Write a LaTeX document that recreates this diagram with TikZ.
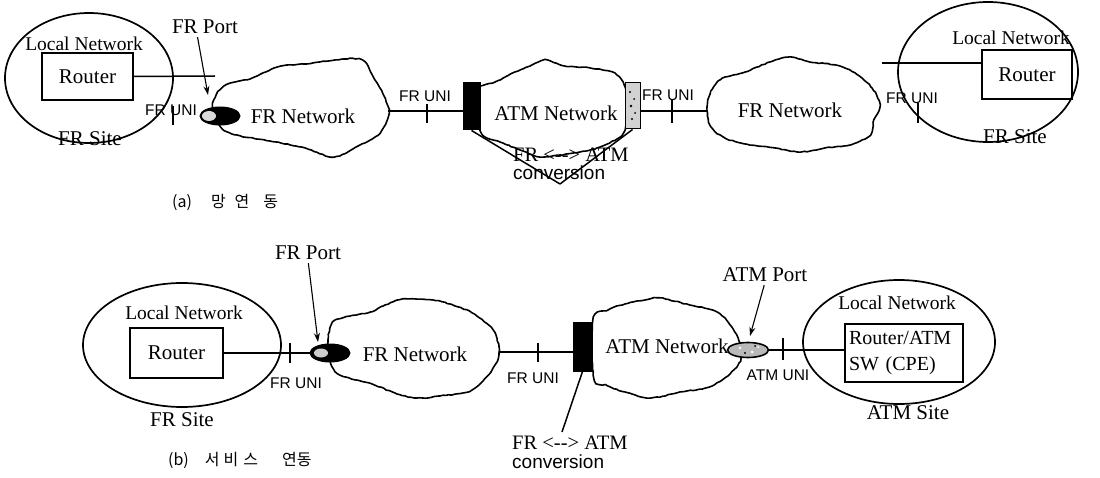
\documentclass[tikz,border=0pt]{standalone}
\usepackage{fontspec}
\setmainfont{Liberation Serif}
\newfontfamily\uisans{Liberation Sans}
\newfontfamily\krfont{Noto Sans CJK KR}
\usetikzlibrary{shapes.geometric,arrows.meta,decorations.pathmorphing}

\tikzset{
  lbl/.style={inner sep=0pt, font=\fontsize{21}{24}\selectfont},
  lanlbl/.style={inner sep=0pt, font=\fontsize{19.5}{22}\selectfont},
  unilbl/.style={inner sep=0pt, font=\uisans\fontsize{15.5}{18}\selectfont},
  cvlbl/.style={inner sep=0pt, anchor=west, font=\fontsize{20.5}{24}\selectfont},
  cvsans/.style={inner sep=0pt, anchor=west, font=\uisans\fontsize{19}{22}\selectfont},
  caplbl/.style={inner sep=0pt, anchor=west, font=\krfont\fontsize{16}{18}\selectfont},
  site/.style={draw, ellipse, line width=1.7pt, inner sep=0pt},
  rbox/.style={draw, line width=1.6pt, inner sep=0pt, font=\fontsize{21}{24}\selectfont},
  wire/.style={line width=1.5pt},
  tickmark/.style={line width=1.2pt},
  netcloud/.style={draw, fill=white, line width=1.6pt,
    decorate, decoration={random steps, segment length=3pt, amplitude=0.45pt}},
  blkdark/.style={draw, fill=black, line width=1pt, inner sep=0pt},
  blklight/.style={draw, fill=gray!35, line width=1pt, inner sep=0pt},
  port/.style={draw, ellipse, fill=black, line width=1pt, inner sep=0pt,
    minimum width=40pt, minimum height=18pt},
  portlight/.style={draw, ellipse, fill=gray!55, line width=1.6pt, inner sep=0pt,
    minimum width=41pt, minimum height=15pt},
  ptr/.style={-{Stealth[length=9pt,width=6pt]}, line width=1.1pt},
  cvline/.style={line width=1.5pt},
}

\begin{document}
\begin{tikzpicture}[x=1pt,y=-1pt]
\pgfmathsetseed{41}
\useasboundingbox (0,0) rectangle (1100,478);

% ---------------- (a) network interworking ----------------
% sites
\node[site, minimum width=168pt, minimum height=130pt] (siteA) at (89,78) {};
\node[site, minimum width=180pt, minimum height=140pt] (siteB) at (988,72) {};

% clouds
\draw[netcloud] plot[smooth cycle, tension=0.55] coordinates {
  (214,100) (224,86) (252,78) (278,67) (305,64) (335,60) (362,60) (374,78)
  (384,96) (389,113) (380,133) (358,146) (334,157) (305,148) (270,141)
  (232,134) (218,124) (213,112)};
\draw[netcloud] plot[smooth cycle, tension=0.55] coordinates {
  (478,88) (495,82) (515,72) (530,66) (545,60) (565,66) (590,68) (612,72)
  (623,82) (628,100) (627,118) (622,135) (600,147) (580,152) (560,155)
  (540,157) (520,150) (500,142) (483,135) (476,115) (476,100)};
\draw[netcloud] plot[smooth cycle, tension=0.55] coordinates {
  (708,100) (720,80) (745,72) (770,62) (790,57) (810,62) (835,65) (855,73)
  (872,88) (880,105) (874,120) (870,135) (850,145) (825,148) (800,152)
  (775,148) (750,145) (725,138) (710,125)};

% routers
\node[rbox, minimum width=91pt, minimum height=47pt] (rtA) at (87.5,76.5) {Router};
\node[rbox, minimum width=90pt, minimum height=49pt] (rtB) at (1027,74.5) {Router};

% conversion blocks
\node[blkdark, minimum width=17pt, minimum height=47pt] (cvA1) at (471.5,106.5) {};
\node[blklight, minimum width=15pt, minimum height=46pt] (cvA2) at (632.5,106) {};
\fill (630,92) circle (1.2pt) (634,99) circle (1pt) (631,106) circle (1.3pt)
      (635,113) circle (1pt) (632,119) circle (1.2pt);

% connection points
\coordinate (rtAend) at (215,76);
\coordinate (frAe) at (388,111);
\coordinate (frA2w) at (708,111);
\coordinate (frA2e) at (882,63);
\coordinate (convA) at (560,184);

% links
\draw[wire] (rtA.east) -- (rtAend);
\draw[wire] (frAe) -- (frAe -| cvA1.west);
\draw[wire] (frA2w -| cvA2.east) -- (frA2w);
\draw[wire] (frA2e) -- (frA2e -| rtB.west);

% FR port
\node[port] (portA) at (220,116) {};
\fill[gray!30] (209,116) ellipse [x radius=7, y radius=5];

% UNI marks
\draw[tickmark] (173,106) -- (173,125);
\draw[tickmark] (427,104) -- (427,123);
\draw[tickmark] (672,100) -- (672,123);
\draw[tickmark] (918,103) -- (918,123);
\node[unilbl] (uniA1) at (171,110) {FR UNI};
\node[unilbl] (uniA2) at (425,96) {FR UNI};
\node[unilbl] (uniA3) at (668,95) {FR UNI};
\node[unilbl] (uniA4) at (912,98) {FR UNI};

% labels
\node[lanlbl] (lanA) at (84,44) {Local Network};
\node[lanlbl] (lanB) at (1011,38) {Local Network};
\node[lbl] (fsA) at (90,139) {FR Site};
\node[lbl] (fsB) at (1015,137) {FR Site};
\node[lbl] (frA) at (303,116) {FR Network};
\node[lbl] (atmA) at (556,113) {ATM Network};
\node[lbl] (frA2) at (790,110) {FR Network};
\node[lbl] (fpA) at (205,27) {FR Port};
\coordinate (fpAtip) at (208,95);
\draw[ptr, shorten <=3pt] ([xshift=-8pt]fpA.south) -- (fpAtip);

% FR <--> ATM conversion
\node[cvlbl] (cvtA1) at (513,155) {FR <\mbox{-}\mbox{-}> ATM};
\node[cvsans] (cvtA2) at (513,173) {conversion};
\draw[cvline] (cvA1.south) -- (convA);
\draw[cvline] (cvA2.south) -- (convA);

\node[caplbl] (capA) at (172,202) {(a)\hspace{19pt}망\hspace{9pt}연\hspace{14pt}동};

% ---------------- (b) service interworking ----------------
\node[site, minimum width=198pt, minimum height=124pt] (siteC) at (182,345) {};
\node[site, minimum width=192pt, minimum height=124pt] (siteD) at (899,342) {};

\draw[netcloud] plot[smooth cycle, tension=0.55] coordinates {
  (333,322) (350,316) (370,312) (385,305) (403,299) (433,300) (455,306)
  (472,313) (493,330) (499,352) (492,370) (472,390) (440,396) (417,398)
  (395,393) (372,384) (340,375) (330,360) (328,340)};
\draw[netcloud] plot[smooth cycle, tension=0.55] coordinates {
  (593,320) (608,310) (625,304) (645,300) (660,298) (690,305) (715,311)
  (728,322) (738,338) (742,352) (738,365) (722,380) (705,388) (680,392)
  (650,398) (625,392) (608,386) (594,378)};

\node[rbox, minimum width=93pt, minimum height=50pt] (rtC) at (176.5,353) {Router};
\node[rbox, minimum height=58pt, text width=110pt, inner sep=4pt, align=left,
      font=\fontsize{20}{26}\selectfont] (rtD) at (904,353) {Router/ATM\\SW (CPE)};

\node[blkdark, minimum width=19pt, minimum height=49pt] (cvC) at (582.5,346.5) {};

\coordinate (frCe) at (499,352);
\coordinate (cvCtxt) at (562,432);

\node[port] (portC) at (330,353) {};
\fill[gray!40] (321,353) ellipse [x radius=7, y radius=4.5];
\node[portlight] (portD) at (748,350) {};
\fill[white] (740,348) circle (1.3pt) (752,352) circle (1.5pt) (758,347) circle (1pt);
\fill (745,353) circle (1.2pt) (755,346) circle (1pt);

\draw[wire] (rtC.east) -- (rtC.east -| portC.west);
\draw[wire] (frCe) -- (frCe -| cvC.west);
\draw[wire] (portD.east) -- (rtD.west |- portD.east);

\draw[tickmark] (290,343) -- (290,363);
\draw[tickmark] (538,343) -- (538,362);
\draw[tickmark] (783,338) -- (783,360);
\node[unilbl] (uniC1) at (296,383) {FR UNI};
\node[unilbl] (uniC2) at (533,378) {FR UNI};
\node[unilbl] (uniC3) at (778,375) {ATM UNI};

\node[lanlbl] (lanC) at (184,313) {Local Network};
\node[lanlbl] (lanD) at (897,303) {Local Network};
\node[lbl] (fsC) at (182,420) {FR Site};
\node[lbl] (asD) at (908,413) {ATM Site};
\node[lbl] (frC) at (415,354) {FR Network};
\node[lbl] (atmC) at (667,346) {ATM Network};

\node[lbl] (fpC) at (308,253) {FR Port};
\coordinate (fpCtip) at (318,342);
\draw[ptr, shorten <=3pt] (fpC.south) -- (fpCtip);
\node[lbl] (apD) at (765,275) {ATM Port};
\coordinate (apDtip) at (750,336);
\draw[ptr, shorten <=3pt] (apD.south) -- (apDtip);

\draw[cvline] (cvC.south) -- (cvCtxt);
\node[cvlbl] (cvtC1) at (512,443) {FR <\mbox{-}\mbox{-}> ATM};
\node[cvsans] (cvtC2) at (512,462) {conversion};

\node[caplbl] (capB) at (168,460) {(b)\hspace{16pt}서\hspace{4pt}비\hspace{5pt}스\hspace{24pt}연동};
\end{tikzpicture}
\end{document}
